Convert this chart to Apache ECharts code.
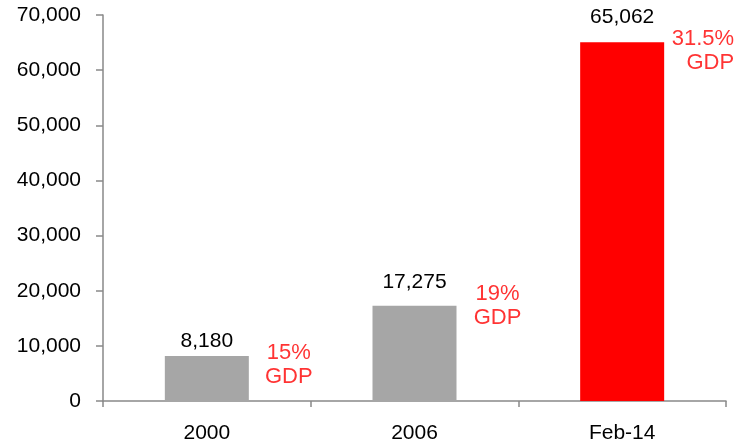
<!DOCTYPE html>
<html>
<head>
<meta charset="utf-8">
<script src="https://cdn.jsdelivr.net/npm/echarts@6/dist/echarts.min.js"></script>
<style>
  html, body { margin: 0; padding: 0; background: #fff; }
  #chart { width: 736px; height: 444px; }
</style>
</head>
<body>
<div id="chart"></div>
<script>
// Categories and values
const categories = ['2000', '2006', 'Feb-14'];
const amounts = [8180, 17275, 65062];
const gdpShare = ['15%', '19%', '31.5%'];

// Styling per bar
const barColors = ['#a6a6a6', '#a6a6a6', '#ff0000'];
const valueLabelGap = [4, 13, 15];
const noteOffsets = [[82, 9], [83, 0], [112, 9]];
const noteAlign = ['center', 'center', 'right'];

const FONT = '"Liberation Sans", Arial, sans-serif';
const fmt = v => Number(v).toLocaleString('en-US');

const chart = echarts.init(document.getElementById('chart'));
chart.setOption({
  animation: false,
  backgroundColor: '#ffffff',
  grid: { left: 103, right: 10, top: 15, bottom: 43, containLabel: false },
  xAxis: {
    type: 'category',
    data: categories,
    axisLine: { lineStyle: { color: '#898989', width: 1.5 } },
    axisTick: { show: true, length: 6, lineStyle: { color: '#898989', width: 1.5 } },
    axisLabel: { color: '#000', fontSize: 21, fontFamily: FONT, margin: 22 }
  },
  yAxis: {
    type: 'value',
    min: 0,
    max: 70000,
    interval: 10000,
    splitLine: { show: false },
    axisLine: { show: true, lineStyle: { color: '#898989', width: 1.5 } },
    axisTick: { show: true, length: 7, lineStyle: { color: '#898989', width: 1.5 } },
    axisLabel: { color: '#000', fontSize: 21, fontFamily: FONT, margin: 22, formatter: fmt }
  },
  series: [
    {
      type: 'bar',
      barWidth: 84,
      data: amounts.map((v, i) => ({
        value: v,
        itemStyle: { color: barColors[i] },
        label: { distance: valueLabelGap[i] }
      })),
      label: {
        show: true,
        position: 'top',
        color: '#000',
        fontSize: 21,
        fontFamily: FONT,
        formatter: p => fmt(p.value)
      }
    },
    {
      type: 'scatter',
      symbolSize: 0,
      silent: true,
      data: amounts.map((v, i) => ({
        value: [i, v],
        label: {
          show: true,
          position: 'inside',
          offset: noteOffsets[i],
          align: noteAlign[i],
          formatter: gdpShare[i] + '\nGDP'
        }
      })),
      label: {
        show: true,
        color: '#ff0000',
        fontSize: 22,
        lineHeight: 24,
        fontFamily: FONT
      }
    }
  ]
});
</script>
</body>
</html>
